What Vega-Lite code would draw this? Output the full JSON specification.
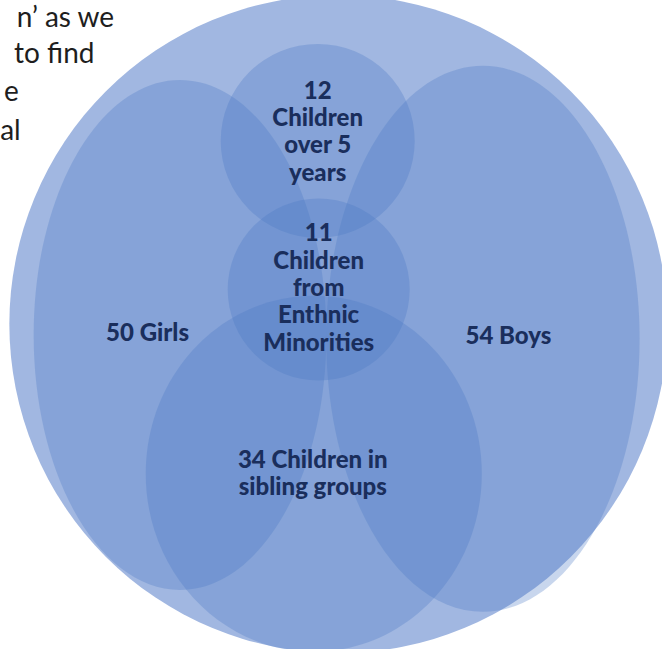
{
  "$schema": "https://vega.github.io/schema/vega-lite/v6.json",
  "autosize": {"type": "fit", "contains": "padding"},
  "width": 662,
  "height": 649,
  "padding": 0,
  "background": "#ffffff",
  "config": {"view": {"stroke": null}},
  "datasets": {
    "shapes": [
      {"name": "All children", "cx": 340, "cy": 320, "h": 658},
      {"name": "Girls", "cx": 179, "cy": 331, "h": 510},
      {"name": "Boys", "cx": 487, "cy": 335, "h": 546},
      {"name": "Over 5 years", "cx": 319, "cy": 134, "h": 194},
      {"name": "Ethnic minorities", "cx": 320, "cy": 285, "h": 182},
      {"name": "Sibling groups", "cx": 315, "cy": 472, "h": 356}
    ],
    "labels": [
      {"label": "12\nChildren\nover 5\nyears", "x": 319, "y": 84},
      {"label": "11\nChildren\nfrom\nEnthnic\nMinorities", "x": 320, "y": 229},
      {"label": "50 Girls", "x": 146, "y": 330},
      {"label": "54 Boys", "x": 513, "y": 333},
      {"label": "34 Children in\nsibling groups", "x": 314, "y": 459}
    ],
    "doc": [
      {"line": "n’ as we", "x": 112, "y": 18},
      {"line": "to find", "x": 92, "y": 55},
      {"line": "e", "x": 15, "y": 93},
      {"line": "al", "x": 17, "y": 133}
    ]
  },
  "encoding": {
    "x": {"field": "cx", "type": "quantitative", "scale": {"domain": [0, 662], "nice": false, "zero": false}, "axis": null},
    "y": {"field": "cy", "type": "quantitative", "scale": {"domain": [0, 649], "nice": false, "zero": false, "reverse": true}, "axis": null}
  },
  "layer": [
    {
      "data": {"name": "shapes"},
      "transform": [{"filter": "datum.name === 'All children'"}],
      "mark": {"type": "point", "shape": "circle", "filled": true, "fill": "#A1B7E1", "opacity": 1, "strokeWidth": 0},
      "encoding": {
        "size": {"field": "h", "type": "quantitative", "scale": {"type": "pow", "exponent": 2, "domain": [0, 700], "range": [0, 490000], "zero": true, "nice": false}, "legend": null}
      }
    },
    {
      "data": {"name": "shapes"},
      "transform": [{"filter": "datum.name === 'Girls' || datum.name === 'Boys'"}],
      "mark": {"type": "point", "shape": "M 0.574 0 C 0.574 0.5523 0.317 1 0 1 C -0.317 1 -0.574 0.5523 -0.574 0 C -0.574 -0.5523 -0.317 -1 0 -1 C 0.317 -1 0.574 -0.5523 0.574 0 Z", "filled": true, "fill": "#4A78C2", "opacity": 1, "fillOpacity": 0.3, "strokeWidth": 0},
      "encoding": {
        "size": {"field": "h", "type": "quantitative", "legend": null}
      }
    },
    {
      "data": {"name": "shapes"},
      "transform": [{"filter": "datum.name === 'Over 5 years' || datum.name === 'Ethnic minorities'"}],
      "mark": {"type": "point", "shape": "circle", "filled": true, "fill": "#4A78C2", "opacity": 1, "fillOpacity": 0.3, "strokeWidth": 0},
      "encoding": {
        "size": {"field": "h", "type": "quantitative", "legend": null}
      }
    },
    {
      "data": {"name": "shapes"},
      "transform": [{"filter": "datum.name === 'Sibling groups'"}],
      "mark": {"type": "point", "shape": "M 0.944 0 C 0.944 0.5523 0.5214 1 0 1 C -0.5214 1 -0.944 0.5523 -0.944 0 C -0.944 -0.5523 -0.5214 -1 0 -1 C 0.5214 -1 0.944 -0.5523 0.944 0 Z", "filled": true, "fill": "#4A78C2", "opacity": 1, "fillOpacity": 0.3, "strokeWidth": 0},
      "encoding": {
        "size": {"field": "h", "type": "quantitative", "legend": null}
      }
    },
    {
      "data": {"name": "labels"},
      "mark": {"type": "text", "font": "Lato", "fontWeight": 900, "fontSize": 24, "lineHeight": 27.3, "lineBreak": "\n", "align": "center", "baseline": "middle", "color": "#1A2E5C"},
      "encoding": {
        "x": {"field": "x", "type": "quantitative"},
        "y": {"field": "y", "type": "quantitative"},
        "text": {"field": "label", "type": "nominal"}
      }
    },
    {
      "data": {"name": "doc"},
      "mark": {"type": "text", "font": "Lato", "fontSize": 28, "align": "right", "baseline": "alphabetic", "color": "#1E1E1E"},
      "encoding": {
        "x": {"field": "x", "type": "quantitative"},
        "y": {"field": "y", "type": "quantitative"},
        "text": {"field": "line", "type": "nominal"}
      }
    }
  ]
}
